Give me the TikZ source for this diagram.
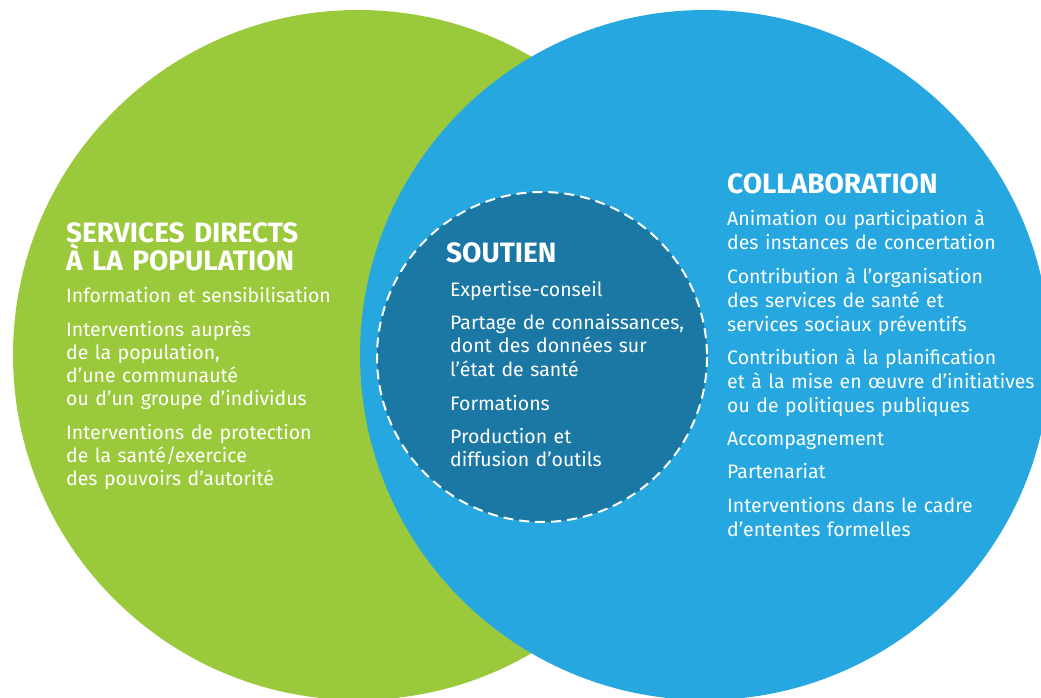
\documentclass[tikz,border=0pt]{standalone}
\usepackage{fontspec}
\setmainfont{Fira Sans}
\usetikzlibrary{positioning}
\definecolor{venngreen}{HTML}{9BC93C}
\definecolor{vennblue}{HTML}{26A7DF}
\definecolor{venndark}{HTML}{1B77A3}
\tikzset{
  heading/.style={
    text=white,
    font=\fontsize{28}{26}\selectfont\bfseries,
    inner sep=0pt,
    text width=300pt,
    align=left,
    anchor=base west,
  },
  itemlist/.style={
    text=white,
    font=\fontsize{19.5}{24}\selectfont,
    inner sep=0pt,
    text width=340pt,
    align=left,
    anchor=base west,
  },
}

\begin{document}
\begin{tikzpicture}[x=1pt,y=-1pt]
  \useasboundingbox (0,0) rectangle (1041,698);
  \clip (0,0) rectangle (1041,698);
  %% the three sets
  \fill [venngreen] (358,355) circle [radius=345];
  \fill [vennblue] (705,355) circle [radius=345];
  \fill [venndark] (542,357) circle [radius=165];
  \draw [white, line width=2pt, dash pattern=on 10pt off 6pt] (542,357) circle [radius=165];
  %%
  \node (services) [heading] at (66,242) {SERVICES DIRECTS\\À LA POPULATION};
  \node (servitems) [itemlist, below=60pt of services.base west, anchor=base west]
    {Information et sensibilisation\\[10pt]
     Interventions auprès\\[-1pt]de la population,\\[-1pt]d’une communauté\\[-1pt]ou d’un groupe d’individus\\[10pt]
     Interventions de protection\\[-1pt]de la santé/exercice\\[-1pt]des pouvoirs d’autorité};
  %%
  \node (soutien) [heading] at (446,262) {SOUTIEN};
  \node (soutitems) [itemlist, below=34pt of soutien.base west, anchor=base west, xshift=4pt]
    {Expertise-conseil\\[9pt]
     Partage de connaissances,\\[-0.5pt]dont des données sur\\[-0.5pt]l’état de santé\\[10pt]
     Formations\\[9pt]
     Production et\\[-0.5pt]diffusion d’outils};
  %%
  \node (collab) [heading] at (727,193) {COLLABORATION};
  \node (collitems) [itemlist, below=32pt of collab.base west, anchor=base west]
    {Animation ou participation à\\des instances de concertation\\[10pt]
     Contribution à l’organisation\\des services de santé et\\services sociaux préventifs\\[9pt]
     Contribution à la planification\\et à la mise en œuvre d’initiatives\\ou de politiques publiques\\[9pt]
     Accompagnement\\[9pt]
     Partenariat\\[10pt]
     Interventions dans le cadre\\d’ententes formelles};
\end{tikzpicture}
\end{document}
